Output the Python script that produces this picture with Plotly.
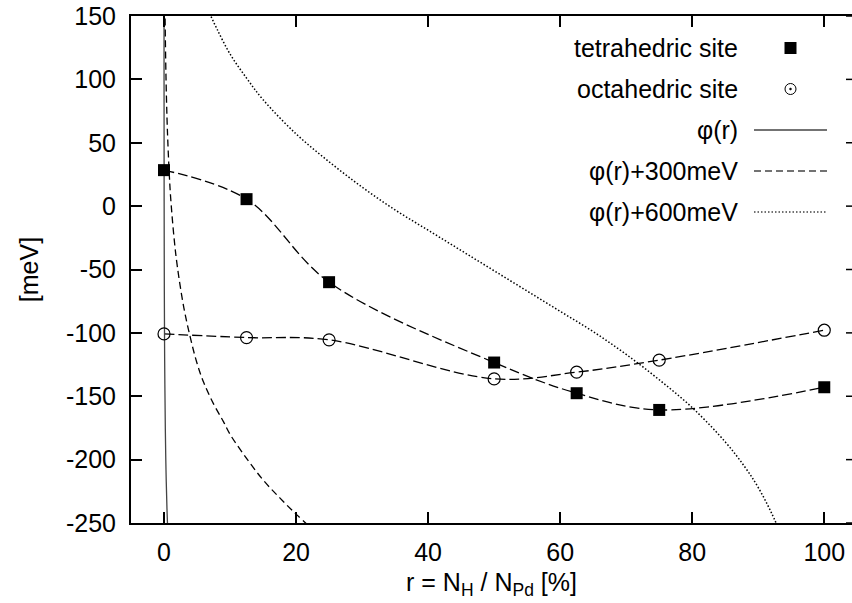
import plotly.graph_objects as go

# ---- data ----
site_x = [0, 12.5, 25, 50, 62.5, 75, 100]
tetra_y = [28.4, 5.5, -60, -123.4, -147.6, -160.8, -142.9]
octa_y = [-100.8, -103.7, -105.5, -136.3, -131.0, -121.5, -97.9]

phi_x = [0.003, 0.006, 0.01, 0.02, 0.05, 0.1, 0.2, 0.3, 0.45, 0.6]
phi_y = [152, 98, 58, 4, -68, -122, -176, -208, -239, -262]

phi300_x = [0.12, 0.15, 0.2, 0.3, 0.45, 0.6, 0.8, 1.0, 1.5, 2, 3, 4, 5, 6, 7.5, 9, 10, 12.5, 15, 17.5, 20, 22.5]
phi300_y = [174, 156, 134, 102, 70, 48, 25, 7, -24, -47, -80, -104, -124, -139, -156, -170, -180, -199, -216, -230, -243, -255]

phi600_x = [6.5, 7, 8, 10, 12.5, 15, 20, 25, 30, 35, 40, 45, 50, 55, 60, 65, 70, 75, 80, 85, 88, 90, 92, 94]
phi600_y = [157, 151, 140, 120, 101, 84, 57, 35, 15, -3, -19, -35, -51, -67, -83, -99, -117, -137, -159, -186, -206, -222, -242, -266]

x_ticks = [0, 20, 40, 60, 80, 100]
y_ticks = [-250, -200, -150, -100, -50, 0, 50, 100, 150]

legend_labels = ["tetrahedric site", "octahedric site", "φ(r)", "φ(r)+300meV", "φ(r)+600meV"]

# ---- geometry ----
W, H = 852, 603
L, R, T, B = 131, 0, 16, 80
PW, PH = W - L - R, H - T - B
FONT = "Liberation Sans, Arial, Helvetica, sans-serif"
FS = 25


def px(xp):
    return (xp - L) / PW


def py(yp):
    return (H - B - yp) / PH


fig = go.Figure()

# smooth connectors
fig.add_trace(go.Scatter(x=site_x, y=tetra_y, mode="lines", line=dict(shape="spline", smoothing=1.0, color="black", width=1.3, dash="10px,4px"), showlegend=False, hoverinfo="skip"))
fig.add_trace(go.Scatter(x=site_x, y=octa_y, mode="lines", line=dict(shape="spline", smoothing=1.0, color="black", width=1.3, dash="10px,4px"), showlegend=False, hoverinfo="skip"))

# phi curves
fig.add_trace(go.Scatter(x=phi_x, y=phi_y, mode="lines", line=dict(shape="spline", color="#444444", width=1.3), showlegend=False))
fig.add_trace(go.Scatter(x=phi300_x, y=phi300_y, mode="lines", line=dict(shape="spline", color="black", width=1.3, dash="7px,4px"), showlegend=False))
fig.add_trace(go.Scatter(x=phi600_x, y=phi600_y, mode="lines", line=dict(shape="spline", color="black", width=1.5, dash="1.5px,2px"), showlegend=False))

# markers
fig.add_trace(go.Scatter(x=site_x, y=tetra_y, mode="markers", marker=dict(symbol="square", size=12, color="black"), showlegend=False))
fig.add_trace(go.Scatter(x=site_x, y=octa_y, mode="markers", marker=dict(symbol="circle-open", size=12, color="black", line=dict(width=1.2)), showlegend=False))

shapes = []
annotations = []

# right-side mirrored y ticks (axis itself lies beyond image edge)
for yv in y_ticks:
    shapes.append(dict(type="line", xref="paper", yref="y", x0=1 - 6 / PW, x1=1, y0=yv, y1=yv, line=dict(color="black", width=1.5)))

# manual gnuplot-style key
rows = [48, 89, 130, 171, 212]
for lab, yr in zip(legend_labels, rows):
    annotations.append(dict(xref="paper", yref="paper", x=px(740), y=py(yr), xanchor="right", yanchor="middle", text=lab, showarrow=False, font=dict(family=FONT, size=FS, color="black")))

sx0, sx1, cx = 754, 827, 790.5
shapes.append(dict(type="rect", xref="paper", yref="paper", x0=px(cx - 6), x1=px(cx + 6), y0=py(rows[0] - 6), y1=py(rows[0] + 6), fillcolor="black", line=dict(width=0)))
shapes.append(dict(type="circle", xref="paper", yref="paper", x0=px(cx - 5.5), x1=px(cx + 5.5), y0=py(rows[1] - 5.5), y1=py(rows[1] + 5.5), line=dict(color="black", width=1)))
shapes.append(dict(type="circle", xref="paper", yref="paper", x0=px(cx - 1), x1=px(cx + 1), y0=py(rows[1] - 1), y1=py(rows[1] + 1), fillcolor="black", line=dict(color="black", width=0.5)))
shapes.append(dict(type="line", xref="paper", yref="paper", x0=px(sx0), x1=px(sx1), y0=py(rows[2]), y1=py(rows[2]), line=dict(color="#444444", width=1.3)))
shapes.append(dict(type="line", xref="paper", yref="paper", x0=px(sx0), x1=px(sx1), y0=py(rows[3]), y1=py(rows[3]), line=dict(color="#444444", width=1.3, dash="7px,4px")))
shapes.append(dict(type="line", xref="paper", yref="paper", x0=px(sx0), x1=px(sx1), y0=py(rows[4]), y1=py(rows[4]), line=dict(color="#444444", width=1.3, dash="1.5px,2px")))

fig.update_layout(
    width=W, height=H,
    margin=dict(l=L, r=R, t=T, b=B),
    paper_bgcolor="white", plot_bgcolor="white",
    font=dict(family=FONT, size=FS, color="black"),
    showlegend=False,
    shapes=shapes,
    annotations=annotations,
    xaxis=dict(
        range=[-5, 104.2], tickvals=x_ticks, ticktext=[str(v) for v in x_ticks],
        ticks="inside", ticklen=11, tickwidth=1.5, tickcolor="black",
        showline=True, linecolor="black", linewidth=2, mirror="ticks",
        showgrid=False, zeroline=False, ticklabelstandoff=6,
        title=dict(text="r = N<sub>H</sub> / N<sub>Pd</sub> [%]", standoff=8, font=dict(size=FS)),
    ),
    yaxis=dict(
        range=[-250, 150], tickvals=y_ticks, ticktext=[str(v) for v in y_ticks],
        ticks="inside", ticklen=11, tickwidth=1.5, tickcolor="black",
        showline=True, linecolor="black", linewidth=2, mirror=False,
        showgrid=False, zeroline=False, ticklabelstandoff=8,
        title=dict(text="[meV]", standoff=20, font=dict(size=FS)),
    ),
)

fig.write_html("out.html")
